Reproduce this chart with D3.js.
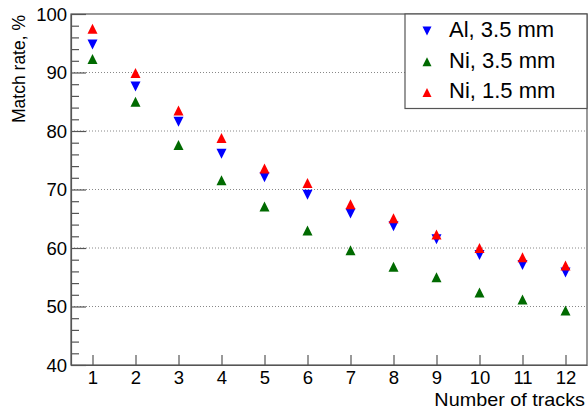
<!DOCTYPE html>
<html>
<head>
<meta charset="utf-8">
<script src="https://cdn.jsdelivr.net/npm/d3@7"></script>
<style>
  html, body { margin: 0; padding: 0; background: #fff; }
  svg { display: block; font-family: "Liberation Sans", Arial, sans-serif; }
</style>
</head>
<body>
<div id="chart"></div>
<script>
// number of tracks
const tracks = [1, 2, 3, 4, 5, 6, 7, 8, 9, 10, 11, 12];

// match rate, %
const al35 = [94.8, 87.6, 81.6, 76.1, 72.1, 69.1, 65.9, 63.7, 61.5, 58.8, 57.1, 55.8];
const ni35 = [92.3, 85.0, 77.6, 71.6, 67.1, 63.0, 59.6, 56.8, 55.0, 52.4, 51.2, 49.3];
const ni15 = [97.5, 89.9, 83.5, 78.8, 73.6, 71.1, 67.5, 65.1, 62.3, 60.0, 58.4, 57.0];

const yTicks = [40, 50, 60, 70, 80, 90, 100];
const gridValues = [50, 60, 70, 80, 90];

const series = [
  { name: 'Al, 3.5 mm', values: al35, color: '#0000ff', dir: 'down' },
  { name: 'Ni, 3.5 mm', values: ni35, color: '#006a00', dir: 'up' },
  { name: 'Ni, 1.5 mm', values: ni15, color: '#ff0000', dir: 'up' }
];

const W = 588, H = 410;
const margin = { top: 14, right: 1, bottom: 45, left: 71 };
const axisColor = '#555';

const svg = d3.select('#chart').append('svg')
  .attr('width', W)
  .attr('height', H)
  .attr('viewBox', `0 0 ${W} ${H}`);

const x = d3.scaleLinear().domain([0.5, 12.5]).range([margin.left, W - margin.right]);
const y = d3.scaleLinear().domain([40, 100]).range([H - margin.bottom, margin.top]);

// triangle marker, centred on its bounding box like ROOT does
function triangle(cx, cy, w, h, dir) {
  const s = dir === 'up' ? 1 : -1;
  return `M${cx},${cy - s * h / 2}L${cx + w / 2},${cy + s * h / 2}L${cx - w / 2},${cy + s * h / 2}Z`;
}

// dotted grid
svg.append('g')
  .selectAll('line')
  .data(gridValues)
  .join('line')
  .attr('x1', x.range()[0])
  .attr('x2', x.range()[1])
  .attr('y1', d => y(d))
  .attr('y2', d => y(d))
  .attr('stroke', '#888')
  .attr('stroke-width', 1)
  .attr('stroke-dasharray', '1,2');

// frame
svg.append('rect')
  .attr('x', x.range()[0])
  .attr('y', y.range()[1])
  .attr('width', x.range()[1] - x.range()[0])
  .attr('height', y.range()[0] - y.range()[1])
  .attr('fill', 'none')
  .attr('stroke', axisColor)
  .attr('stroke-width', 1.2);

// y axis: major + minor ticks pointing inwards
const minorTicks = d3.range(40, 100.1, 2).filter(v => v % 10 !== 0);

const yAxis = svg.append('g')
  .attr('transform', `translate(${x.range()[0]},0)`)
  .call(d3.axisLeft(y).tickValues(yTicks).tickSizeInner(-15).tickSizeOuter(0).tickPadding(4));

svg.append('g')
  .attr('transform', `translate(${x.range()[0]},0)`)
  .call(d3.axisLeft(y).tickValues(minorTicks).tickSizeInner(-8).tickSizeOuter(0).tickFormat(''))
  .call(g => g.select('.domain').remove());

// x axis
const xAxis = svg.append('g')
  .attr('transform', `translate(0,${y.range()[0]})`)
  .call(d3.axisBottom(x).tickValues(tracks).tickSizeInner(-10).tickSizeOuter(0).tickFormat(d3.format('d')));

[yAxis, xAxis].forEach(g => {
  g.selectAll('.domain').attr('stroke', axisColor).attr('stroke-width', 1.2);
  g.selectAll('.tick line').attr('stroke', axisColor).attr('stroke-width', 1.2);
  g.selectAll('.tick text')
    .attr('fill', '#000')
    .style('font-size', '18.5px')
    .style('font-family', '"Liberation Sans", Arial, sans-serif');
});
svg.selectAll('.tick line').attr('stroke', axisColor).attr('stroke-width', 1.2);

yAxis.selectAll('.tick text').attr('x', -4).attr('dy', '0.35em');
xAxis.selectAll('.tick text').attr('y', 19).attr('dy', null);

// axis titles
svg.append('text')
  .attr('transform', `translate(${W - 3},${H - 4}) scale(1.1,1)`)
  .attr('text-anchor', 'end')
  .style('font-size', '18px')
  .text('Number of tracks');

svg.append('text')
  .attr('transform', `translate(25,${margin.top + 1}) rotate(-90)`)
  .attr('text-anchor', 'end')
  .style('font-size', '17.5px')
  .text('Match rate, %');

// markers
series.forEach(s => {
  svg.append('g')
    .selectAll('path')
    .data(tracks.map((t, i) => ({ t, v: s.values[i] })))
    .join('path')
    .attr('d', d => triangle(x(d.t), y(d.v), 10, 10, s.dir))
    .attr('fill', s.color);
});

// legend
const legend = svg.append('g');
const lx0 = 405, ly0 = y.range()[1], lx1 = x.range()[1], ly1 = 108.5;
legend.append('rect')
  .attr('x', lx0)
  .attr('y', ly0)
  .attr('width', lx1 - lx0)
  .attr('height', ly1 - ly0)
  .attr('fill', '#fff')
  .attr('stroke', axisColor)
  .attr('stroke-width', 1.2);

const rowBase = d3.scaleLinear().domain([0, 2]).range([36.7, 98.3]);
series.forEach((s, i) => {
  legend.append('path')
    .attr('d', triangle(427, rowBase(i) - 5.8, 9, 9, s.dir))
    .attr('fill', s.color);
  legend.append('text')
    .attr('x', 449)
    .attr('y', rowBase(i))
    .style('font-size', '22px')
    .text(s.name);
});
</script>
</body>
</html>
